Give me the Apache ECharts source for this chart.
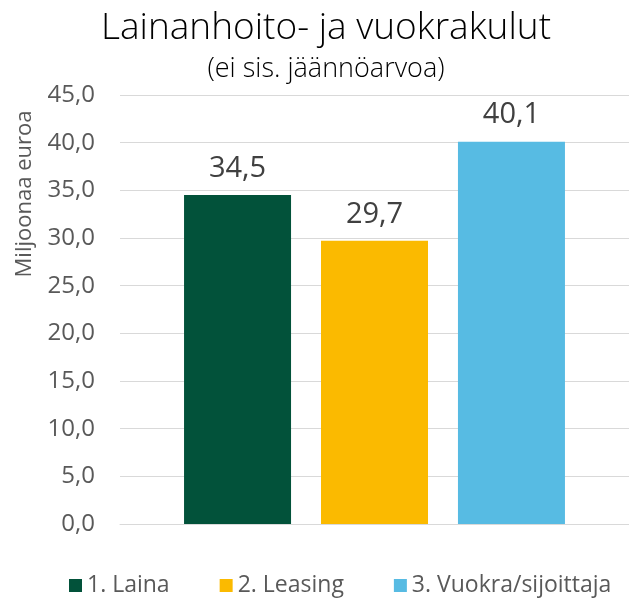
<!DOCTYPE html>
<html>
<head>
<meta charset="utf-8">
<script src="https://cdn.jsdelivr.net/npm/echarts@6/dist/echarts.min.js"></script>
<style>
  html, body { margin: 0; padding: 0; background: #fff; }
  #chart { width: 629px; height: 604px; }
</style>
</head>
<body>
<div id="chart"></div>
<script>
// data
var categories = ['Kulut'];
var seriesNames = ['1. Laina', '2. Leasing', '3. Vuokra/sijoittaja'];
var seriesValues = [[34.5], [29.7], [40.1]];
var seriesColors = ['#02523A', '#FBBA00', '#57BBE3'];
var yMin = 0, yMax = 45, yStep = 5;

var chart = echarts.init(document.getElementById('chart'));
var font = '"Open Sans", sans-serif';

var series = seriesNames.map(function (name, i) {
    return {
        name: name,
        type: 'bar',
        data: seriesValues[i],
        barWidth: 107,
        barGap: '28%',
        itemStyle: { color: seriesColors[i] },
        label: {
            show: true,
            position: 'top',
            distance: 12,
            color: '#404040',
            fontFamily: font,
            fontSize: 29,
            formatter: function (p) { return p.value.toFixed(1).replace('.', ','); }
        }
    };
});

var option = {
    animation: false,
    title: [
        {
            text: 'Lainanhoito- ja vuokrakulut',
            left: 321, top: 5, textAlign: 'center',
            textStyle: { fontFamily: font, fontWeight: 300, fontSize: 37, color: '#000' }
        },
        {
            text: '(ei sis. jäännöarvoa)',
            left: 321, top: 51, textAlign: 'center',
            textStyle: { fontFamily: font, fontWeight: 300, fontSize: 27, color: '#000' }
        }
    ],
    graphic: [{
        type: 'text',
        x: 25, y: 194,
        rotation: Math.PI / 2,
        style: {
            text: 'Miljoonaa euroa',
            fontFamily: font, fontSize: 22, fill: '#595959',
            align: 'center', verticalAlign: 'middle'
        }
    }],
    legend: {
        data: seriesNames,
        bottom: 2,
        left: 64,
        itemWidth: 13, itemHeight: 13, itemGap: 50,
        icon: 'rect',
        textStyle: { fontFamily: font, fontSize: 23, color: '#595959' }
    },
    grid: { left: 120, top: 95, width: 521, height: 429 },
    xAxis: {
        type: 'category',
        data: categories,
        axisLine: { lineStyle: { color: '#D9D9D9' } },
        axisTick: { show: false },
        axisLabel: { show: false }
    },
    yAxis: {
        type: 'value',
        min: yMin, max: yMax, interval: yStep,
        axisLine: { show: false },
        axisTick: { show: false },
        splitLine: { lineStyle: { color: '#D9D9D9', width: 1 } },
        axisLabel: {
            margin: 25,
            color: '#595959',
            fontFamily: font,
            fontSize: 24,
            formatter: function (v) { return v.toFixed(1).replace('.', ','); }
        }
    },
    series: series
};
chart.setOption(option);
</script>
</body>
</html>
